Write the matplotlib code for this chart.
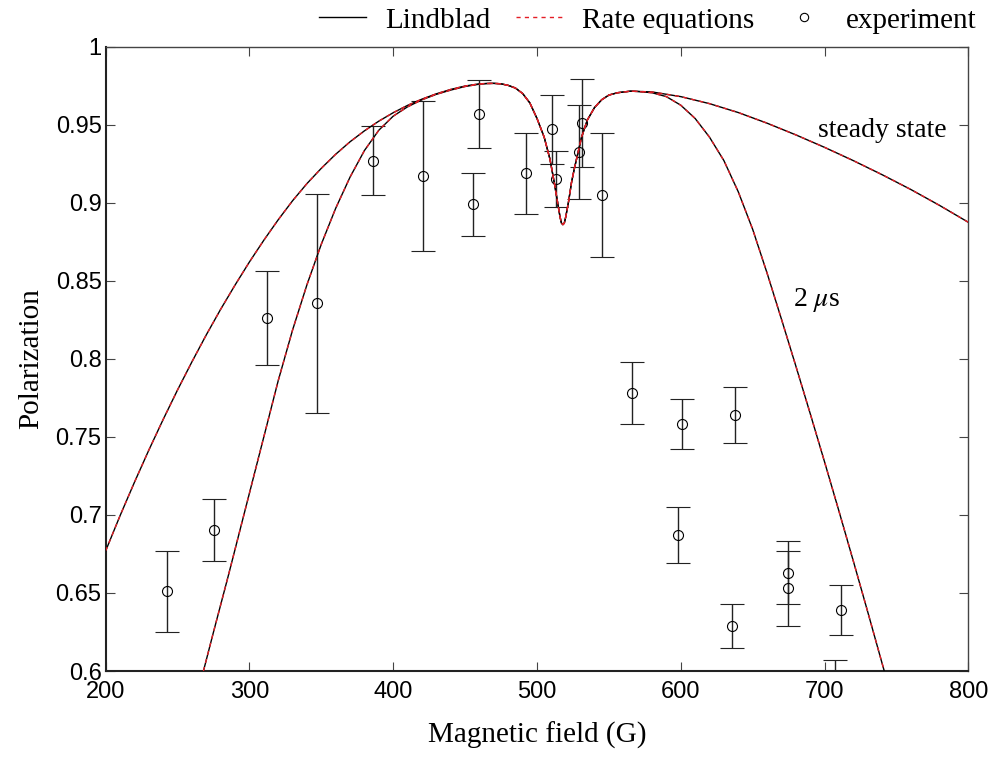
import matplotlib

matplotlib.use("Agg")
import matplotlib.pyplot as plt
from matplotlib.lines import Line2D

plt.rcParams["mathtext.fontset"] = "stix"

# curve samples (field in G, polarization)
field_steady = [200, 210, 220, 230, 240, 250, 260, 270, 280, 290, 300, 310, 320, 330,
                340, 350, 360, 370, 380, 390, 400, 410, 420, 430, 440, 450, 460, 465,
                470, 475, 480, 485, 490, 495, 500, 505, 509, 512, 514, 516, 517, 518,
                519, 520, 522, 524, 526, 528, 531, 535, 540, 545, 550, 556, 565, 580,
                600, 620, 640, 660, 680, 700, 720, 740, 760, 780, 800]
pol_steady = [0.677, 0.6995, 0.7209, 0.7415, 0.7612, 0.7801, 0.7981, 0.8154, 0.8318,
              0.8473, 0.8621, 0.876, 0.8891, 0.9013, 0.9123, 0.9221, 0.9311, 0.9391,
              0.9461, 0.9523, 0.9577, 0.9624, 0.9664, 0.9698, 0.9726, 0.9748, 0.9762,
              0.9764, 0.9765, 0.9762, 0.9752, 0.9735, 0.970, 0.964, 0.954, 0.942,
              0.928, 0.913, 0.902, 0.891, 0.887, 0.886, 0.887, 0.891, 0.901, 0.913,
              0.922, 0.930, 0.942, 0.953, 0.961, 0.966, 0.969, 0.9705, 0.9715, 0.971,
              0.968, 0.9635, 0.9578, 0.951, 0.9435, 0.9355, 0.927, 0.918, 0.9085,
              0.8983, 0.8875]

field_2us = [268, 275, 285, 300, 310, 320, 330, 340, 350, 360, 370, 380, 390, 400,
             410, 420, 430, 440, 450, 460, 465, 470, 475, 480, 485, 490, 495, 500,
             505, 509, 512, 514, 516, 517, 518, 519, 520, 522, 524, 526, 528, 531,
             535, 540, 545, 550, 556, 565, 570, 580, 590, 600, 610, 620, 630, 640,
             650, 660, 670, 680, 690, 700, 710, 720, 730, 740, 742]
pol_2us = [0.600, 0.625, 0.660, 0.714, 0.750, 0.786, 0.8185, 0.8475, 0.8735, 0.8965,
           0.9165, 0.9335, 0.9465, 0.9555, 0.9615, 0.966, 0.9695, 0.9722, 0.9745,
           0.9760, 0.9764, 0.9765, 0.9762, 0.9752, 0.9735, 0.970, 0.964, 0.954,
           0.942, 0.928, 0.913, 0.902, 0.891, 0.887, 0.886, 0.887, 0.891, 0.901,
           0.913, 0.922, 0.930, 0.942, 0.953, 0.961, 0.966, 0.969, 0.9705, 0.9715,
           0.9713, 0.9705, 0.968, 0.9625, 0.954, 0.942, 0.927, 0.907, 0.883, 0.855,
           0.8255, 0.7955, 0.765, 0.734, 0.7025, 0.6705, 0.638, 0.605, 0.5985]

# experiment
exp_field = [242.6, 275.1, 312.2, 346.8, 385.9, 420.5, 455.3, 459.9, 492.1, 510.6,
             513.0, 529.0, 531.5, 545.4, 566.1, 598.3, 600.8, 635.4, 637.7, 674.6,
             674.6, 711.7, 707.0]
exp_pol = [0.651, 0.6905, 0.826, 0.8356, 0.927, 0.917, 0.899, 0.9568, 0.919, 0.947,
           0.915, 0.9327, 0.951, 0.905, 0.778, 0.687, 0.758, 0.629, 0.764, 0.663,
           0.653, 0.639, 0.590]
exp_err = [0.026, 0.020, 0.030, 0.070, 0.022, 0.048, 0.020, 0.022, 0.026, 0.022,
           0.018, 0.030, 0.028, 0.040, 0.020, 0.018, 0.016, 0.014, 0.018, 0.020,
           0.024, 0.016, 0.017]

xticks = [200, 300, 400, 500, 600, 700, 800]
yticks = [0.6, 0.65, 0.7, 0.75, 0.8, 0.85, 0.9, 0.95, 1.0]
ytick_labels = ["0.6", "0.65", "0.7", "0.75", "0.8", "0.85", "0.9", "0.95", "1"]

serif = "Liberation Serif"
sans = "Liberation Sans"
red = "#e41e26"

fig = plt.figure(figsize=(9.95, 7.59), dpi=100)
ax = fig.add_axes([0.1062, 0.1159, 0.8670, 0.8226])

ax.errorbar(exp_field, exp_pol, yerr=exp_err, fmt="o", mfc="none", mec="black",
            ms=7.2, mew=0.8, ecolor="#222222", elinewidth=1.0, capsize=8.3,
            capthick=1.0, zorder=2)

for xs, ys in ((field_steady, pol_steady), (field_2us, pol_2us)):
    ax.plot(xs, ys, color="black", lw=1.0, zorder=3)
    ax.plot(xs, ys, color=red, lw=1.0, dashes=(3, 3), zorder=4)

ax.text(785, 0.946, "steady state", family=serif, fontsize=20, ha="right", va="center")
ax.text(678, 0.8375, r"2 $\mu$s", family=serif, fontsize=20, ha="left", va="center")

ax.set_xlim(200, 800)
ax.set_ylim(0.6, 1.0)
ax.set_xticks(xticks)
ax.set_xticklabels([str(t) for t in xticks])
ax.set_yticks(yticks)
ax.set_yticklabels(ytick_labels)
ax.tick_params(direction="in", length=6.3, width=0.8, top=True, right=True,
               labelsize=17, color="#444444")
ax.tick_params(axis="x", pad=7)
ax.tick_params(axis="y", pad=3)
for lab in ax.get_xticklabels() + ax.get_yticklabels():
    lab.set_family(sans)
for side in ("top", "right"):
    ax.spines[side].set_linewidth(1.0)
    ax.spines[side].set_color("#444444")
for side in ("bottom", "left"):
    ax.spines[side].set_linewidth(1.5)
    ax.spines[side].set_color("#222222")

ax.set_xlabel("Magnetic field (G)", family=serif, fontsize=21, labelpad=14)
ax.set_ylabel("Polarization", family=serif, fontsize=21, labelpad=8)

handles = [
    Line2D([], [], color="black", lw=1.0),
    Line2D([], [], color=red, lw=1.0, dashes=(3, 3)),
    Line2D([], [], ls="none", marker="o", mfc="none", mec="black", ms=6, mew=0.8),
]
fig.legend(handles, ["Lindblad", "Rate equations", "experiment"], loc="upper right",
           bbox_to_anchor=(1.008, 1.025), ncol=3, frameon=False,
           prop={"family": serif, "size": 21}, handlelength=1.6, handletextpad=0.65,
           columnspacing=0.9)

fig.savefig("out.png", dpi=100)
